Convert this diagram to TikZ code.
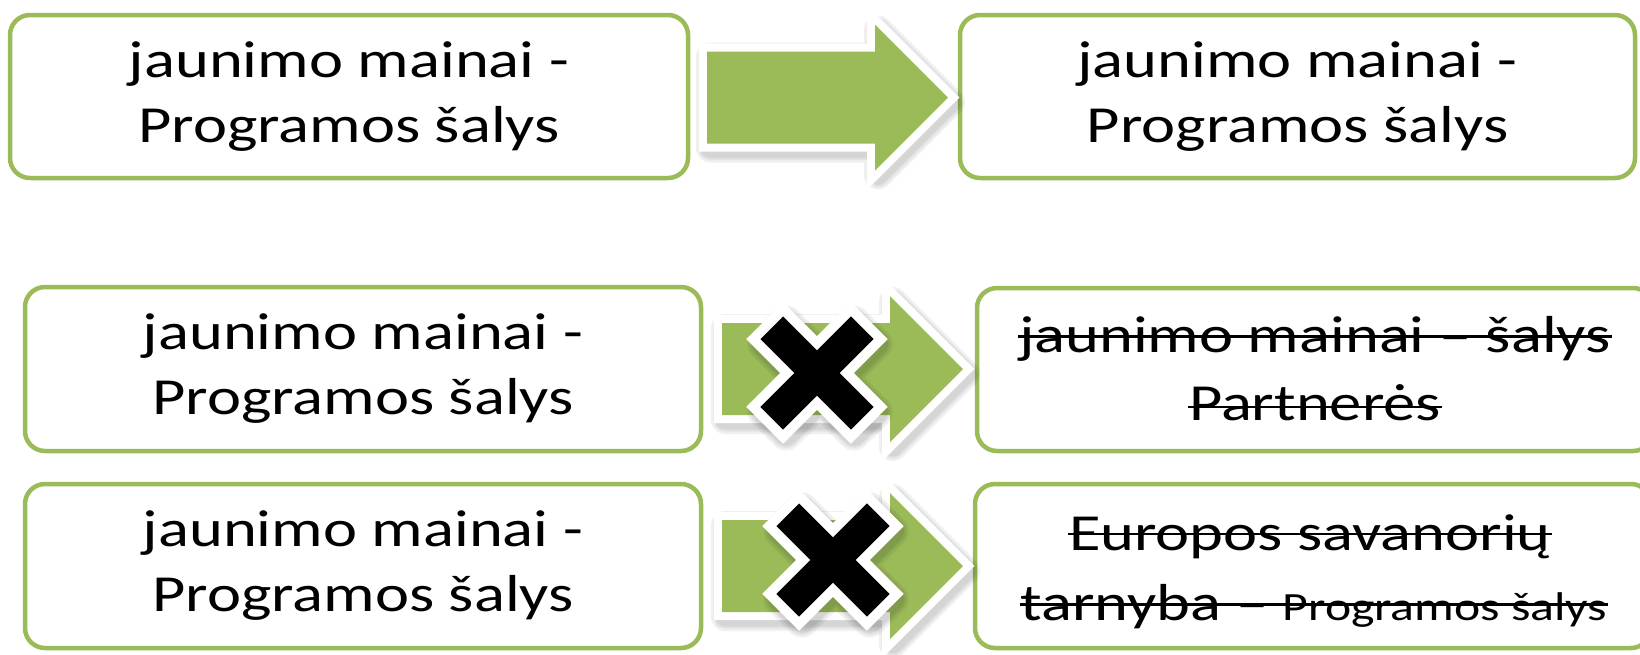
\documentclass[tikz,border=0pt]{standalone}
\usepackage{fontspec}
\setmainfont{Carlito}[FakeStretch=1.24]
\definecolor{boxgreen}{HTML}{9BBB59}
\begin{document}
\begin{tikzpicture}[x=0.1mm,y=-0.1mm,
  box/.style={draw=boxgreen, line width=0.45mm, rounded corners=2mm, fill=white,
    inner sep=0pt, align=center, font=\fontsize{14.8}{18.5}\selectfont},
  strikeline/.style={inner sep=0pt, anchor=base, font=\fontsize{14.8}{18.5}\selectfont},
  strikerule/.style={line width=0.75pt, black},
  softshadow/.style={black, opacity=0.06, line join=round},
  blockarrow/.pic={
    \foreach \w in {2.8,2.3,1.9}{
      \begin{scope}[shift={(3,5)}]
        \draw[softshadow, line width=\w mm]
          (0,-46) -- (168,-46) -- (168,-73) -- (241,0) -- (168,73) -- (168,46) -- (0,46) -- cycle;
      \end{scope}
    }
    \filldraw[white, line width=1.6mm, line join=miter]
      (0,-46) -- (168,-46) -- (168,-73) -- (241,0) -- (168,73) -- (168,46) -- (0,46) -- cycle;
    \fill[boxgreen]
      (0,-46) -- (168,-46) -- (168,-73) -- (241,0) -- (168,73) -- (168,46) -- (0,46) -- cycle;
  },
  crossmark/.pic={
    \foreach \w in {3.2,2.7,2.3}{
      \begin{scope}[shift={(3,5)}, rotate=45]
        \draw[softshadow, line width=\w mm]
          (64,16) -- (16,16) -- (16,64) -- (-16,64) -- (-16,16) -- (-64,16) -- (-64,-16)
          -- (-16,-16) -- (-16,-64) -- (16,-64) -- (16,-16) -- (64,-16) -- cycle;
      \end{scope}
    }
    \begin{scope}[rotate=45]
      \filldraw[white, line width=2mm, line join=miter]
        (64,16) -- (16,16) -- (16,64) -- (-16,64) -- (-16,16) -- (-64,16) -- (-64,-16)
        -- (-16,-16) -- (-16,-64) -- (16,-64) -- (16,-16) -- (64,-16) -- cycle;
      \fill[black]
        (64,16) -- (16,16) -- (16,64) -- (-16,64) -- (-16,16) -- (-64,16) -- (-64,-16)
        -- (-16,-16) -- (-16,-64) -- (16,-64) -- (16,-16) -- (64,-16) -- cycle;
    \end{scope}
  }]
\useasboundingbox (0,0) rectangle (1640,654);

% boxes
\node[box, minimum width=67.8mm, minimum height=16.3mm] (b1) at (349,96.5)
  {jaunimo mainai -\\Programos šalys};
\node[box, minimum width=67.5mm, minimum height=16.3mm] (b2) at (1297.5,96.5)
  {jaunimo mainai -\\Programos šalys};
\node[box, minimum width=67.6mm, minimum height=16.4mm] (b3) at (363,369)
  {jaunimo mainai -\\Programos šalys};
\node[box, minimum width=67.6mm, minimum height=16.3mm] (b4) at (1315,369.5) {};
\node[box, minimum width=67.6mm, minimum height=16.4mm] (b5) at (363,566)
  {jaunimo mainai -\\Programos šalys};
\node[box, minimum width=67.6mm, minimum height=16.4mm] (b6) at (1313,566) {};

% struck-out texts
\node[strikeline] (t4a) at (1315,352) {jaunimo mainai – šalys};
\node[strikeline] (t4b) at (1315,420) {Partnerės};
\node[strikeline] (t6a) at (1310,550) {Europos savanorių};
\node[strikeline] (t6b) at (1314,620)
  {tarnyba – {\fontsize{11.4}{13}\selectfont Programos šalys}};
\draw[strikerule] ([yshift=1.52mm]t4a.base west) -- ([yshift=1.52mm]t4a.base east);
\draw[strikerule] ([yshift=1.3mm]t4b.base west) -- ([yshift=1.3mm]t4b.base east);
\draw[strikerule] ([yshift=1.6mm]t6a.base west) -- ([yshift=1.6mm]t6a.base east);
\draw[strikerule] ([yshift=1.52mm]t6b.base west) -- ([yshift=1.52mm]t6b.base east);

% block arrows
\pic at (707,97.5) {blockarrow};
\pic at (722,369) {blockarrow};
\pic at (722,566) {blockarrow};

% crosses
\pic at (817,373) {crossmark};
\pic at (833,560) {crossmark};
\end{tikzpicture}
\end{document}
